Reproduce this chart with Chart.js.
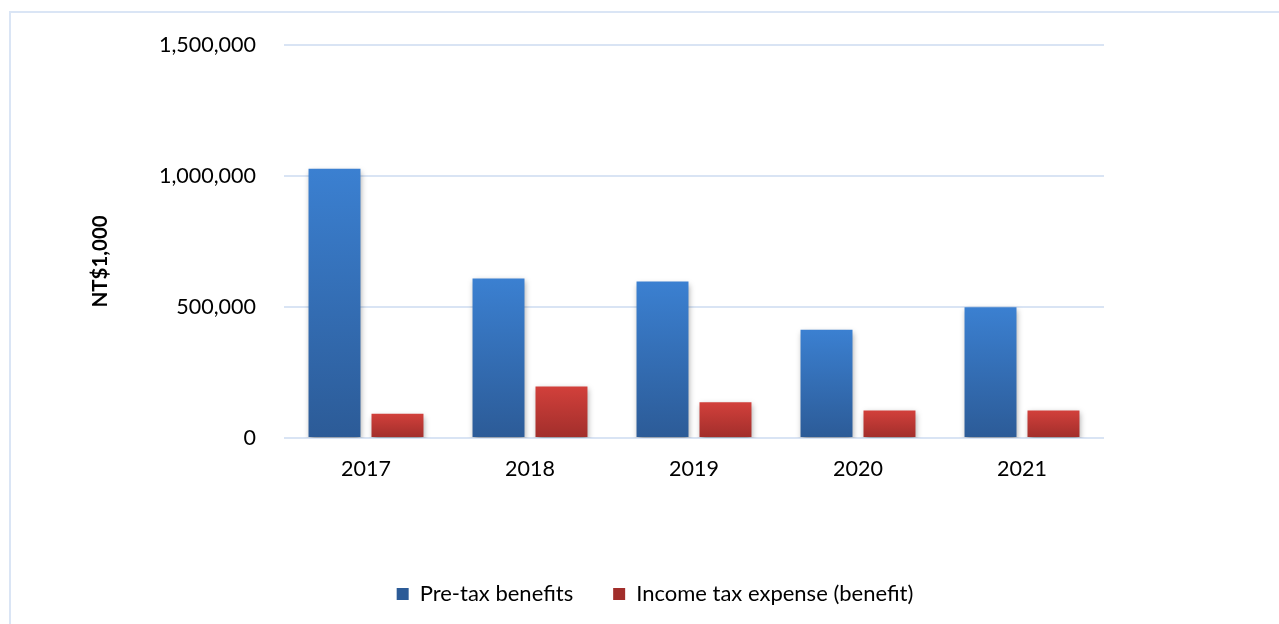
<!DOCTYPE html>
<html lang="en">
<head>
  <meta charset="UTF-8">
  <title>Pre-tax benefits and income tax expense</title>
  <script src="https://cdn.jsdelivr.net/npm/chart.js"></script>
  <style>
    body { margin: 0; background: #fff; overflow: hidden; }
    .frame {
      position: absolute; left: 9px; top: 11px;
      width: 1400px; height: 800px;
      border: 2px solid #dae5f5;
    }
    .wrap { position: absolute; left: 0; top: 0; width: 1279px; height: 624px; }
  </style>
</head>
<body>
<div class="frame"></div>
<div class="wrap"><canvas id="barChart"></canvas></div>

<script>
const years = ['2017', '2018', '2019', '2020', '2021'];
const preTaxBenefits = [1028000, 609000, 597000, 413000, 499000];
const incomeTaxExpense = [93000, 197000, 136000, 105000, 105000];
const yTicks = [0, 500000, 1000000, 1500000];

const FONT = 'Lato, "Open Sans", sans-serif';

// vertical gradient per bar, lighter on top
function barFill(top, bottom) {
  return function (ctx) {
    const chart = ctx.chart;
    if (!chart.chartArea || ctx.raw == null) return top;
    const y = chart.scales.y;
    const y0 = y.getPixelForValue(ctx.raw);
    const y1 = y.getPixelForValue(0);
    const g = chart.ctx.createLinearGradient(0, y0, 0, y1);
    g.addColorStop(0, top);
    g.addColorStop(1, bottom);
    return g;
  };
}

const barShadow = {
  id: 'barShadow',
  beforeDatasetsDraw(chart) {
    const c = chart.ctx;
    c.save();
    c.shadowColor = 'rgba(0,0,0,0.35)';
    c.shadowBlur = 6;
    c.shadowOffsetX = 1;
    c.shadowOffsetY = 3;
  },
  afterDatasetsDraw(chart) {
    chart.ctx.restore();
  }
};

new Chart(document.getElementById('barChart'), {
  type: 'bar',
  data: {
    labels: years,
    datasets: [
      {
        label: 'Pre-tax benefits',
        data: preTaxBenefits,
        backgroundColor: barFill('#3b80d1', '#2c5b97')
      },
      {
        label: 'Income tax expense (benefit)',
        data: incomeTaxExpense,
        backgroundColor: barFill('#d2403b', '#a12e2b')
      }
    ]
  },
  options: {
    responsive: true,
    maintainAspectRatio: false,
    animation: false,
    datasets: { bar: { barPercentage: 0.825, categoryPercentage: 0.768 } },
    layout: { padding: { left: 88, right: 57, top: 45, bottom: 9 } },
    scales: {
      x: {
        grid: { display: false },
        border: { display: false },
        ticks: { color: '#000', font: { family: FONT, size: 21.5 }, padding: 10 },
        afterFit(scale) { scale.height = 105; }
      },
      y: {
        min: 0,
        max: 1500000,
        afterBuildTicks(scale) { scale.ticks = yTicks.map(v => ({ value: v })); },
        grid: { color: '#d9e4f4', lineWidth: 2, drawTicks: false },
        border: { display: false },
        ticks: {
          color: '#000',
          font: { family: FONT, size: 21.5 },
          padding: 28,
          callback: v => v.toLocaleString('en-US')
        },
        title: {
          display: true,
          // trailing spaces push the rotated label down a little
          text: 'NT$1,000        ',
          color: '#000',
          font: { family: FONT, size: 20.5, weight: 'bold' },
          padding: 0
        },
        afterFit(scale) { scale.width = 196; }
      },
      // empty right-hand space so the legend sits where it does in the original
      spacer: {
        position: 'right',
        grid: { display: false },
        border: { display: false },
        ticks: { display: false },
        afterFit(scale) { scale.width = 118; }
      }
    },
    plugins: {
      legend: {
        position: 'bottom',
        labels: {
          color: '#000',
          font: { family: FONT, size: 22 },
          boxWidth: 12,
          boxHeight: 12,
          padding: 40
        }
      },
      tooltip: { enabled: false }
    }
  },
  plugins: [barShadow]
});
</script>
</body>
</html>
